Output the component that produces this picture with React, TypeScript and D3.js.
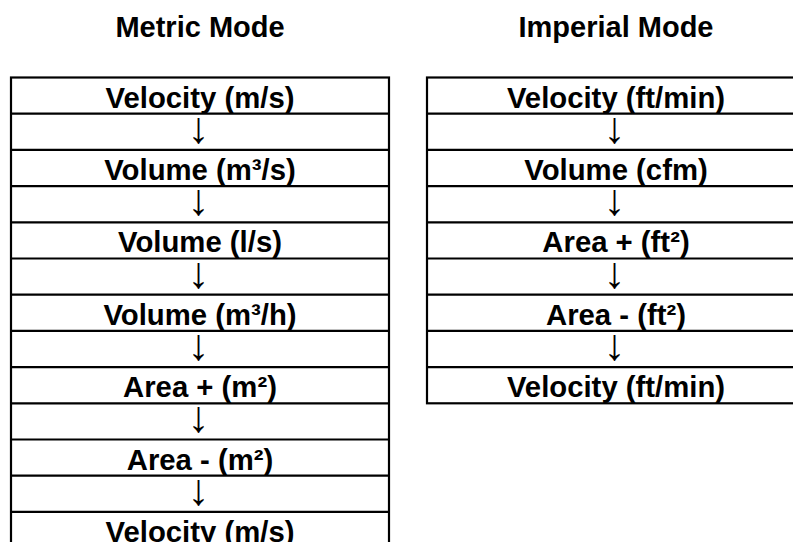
import React from "react";
import * as d3 from "d3";

const metricTitle = "Metric Mode";
const imperialTitle = "Imperial Mode";
const metricSteps = [
  "Velocity (m/s)",
  "Volume (m³/s)",
  "Volume (l/s)",
  "Volume (m³/h)",
  "Area + (m²)",
  "Area - (m²)",
  "Velocity (m/s)",
];
const imperialSteps = [
  "Velocity (ft/min)",
  "Volume (cfm)",
  "Area + (ft²)",
  "Area - (ft²)",
  "Velocity (ft/min)",
];

const W = 793;
const H = 542;
const ROW = 36.2;
const TOP = 77.5;
const FONT = "'Liberation Sans', Arial, sans-serif";

function withArrows(steps: string[]): string[] {
  const out: string[] = [];
  steps.forEach((s, i) => {
    out.push(s);
    if (i < steps.length - 1) out.push("↓");
  });
  return out;
}

function Table({ title, steps, x0, x1 }: { title: string; steps: string[]; x0: number; x1: number }) {
  const rows = withArrows(steps);
  const y = d3
    .scaleBand<number>()
    .domain(d3.range(rows.length))
    .range([TOP, TOP + ROW * rows.length]);
  const cx = (x0 + x1) / 2;
  const bottom = TOP + ROW * rows.length;
  return (
    <g>
      <text x={cx} y={36.5} textAnchor="middle" fontFamily={FONT} fontWeight="bold" fontSize={29}>
        {title}
      </text>
      {rows.map((r, i) =>
        r === "↓" ? (
          <text
            key={i}
            x={cx - 1.5}
            y={(y(i) as number) + 29}
            textAnchor="middle"
            fontFamily={FONT}
            fontSize={44}
            fill="#000"
          >
            {r}
          </text>
        ) : (
          <text
            key={i}
            x={cx}
            y={(y(i) as number) + 30}
            textAnchor="middle"
            fontFamily={FONT}
            fontWeight="bold"
            fontSize={29.3}
          >
            {r}
          </text>
        )
      )}
      {rows.slice(1).map((_, i) => (
        <line key={i} x1={x0} x2={x1} y1={y(i + 1)} y2={y(i + 1)} stroke="#000" strokeWidth={2.2} />
      ))}
      <rect x={x0} y={TOP} width={x1 - x0} height={bottom - TOP} fill="none" stroke="#000" strokeWidth={2.2} />
    </g>
  );
}

export default function App() {
  return (
    <svg width={W} height={H} style={{ position: "absolute", left: 0, top: 0, background: "#fff" }}>
      <rect width={W} height={H} fill="#fff" />
      <Table title={metricTitle} steps={metricSteps} x0={11} x1={389} />
      <Table title={imperialTitle} steps={imperialSteps} x0={427} x1={805} />
    </svg>
  );
}
